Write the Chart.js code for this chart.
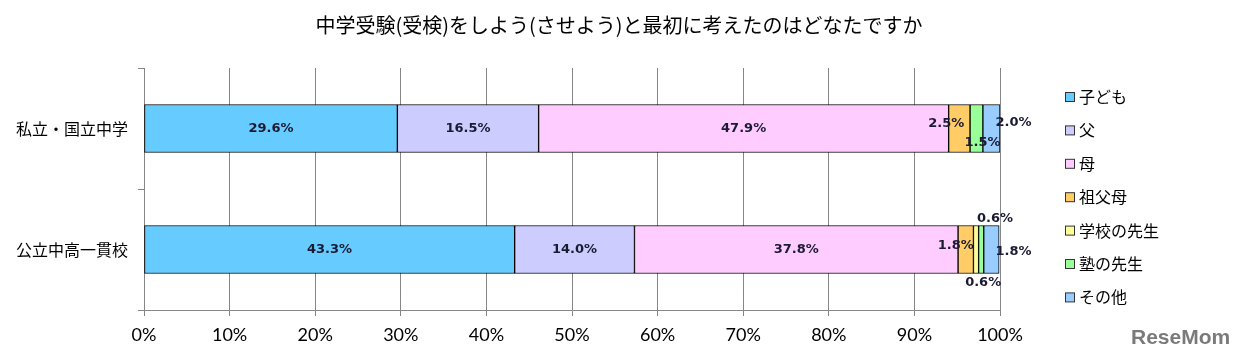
<!DOCTYPE html>
<html><head><meta charset="utf-8">
<script src="https://cdn.jsdelivr.net/npm/chart.js@4/dist/chart.umd.min.js"></script>
<style>html,body{margin:0;padding:0;background:#fff;}#wrap{position:relative;width:1238px;height:361px;}</style>
</head><body><div id="wrap"><canvas id="c" width="1238" height="361"></canvas></div>
<script>
const chartTitle = '中学受験(受検)をしよう(させよう)と最初に考えたのはどなたですか';
const categories = ['私立・国立中学', '公立中高一貫校'];
const seriesNames = ['子ども', '父', '母', '祖父母', '学校の先生', '塾の先生', 'その他'];
const kodomo = [29.6, 43.3];
const chichi = [16.5, 14.0];
const haha = [47.9, 37.8];
const sofubo = [2.5, 1.8];
const gakko = [0, 0.6];
const juku = [1.5, 0.6];
const sonota = [2.0, 1.8];
const xTickValues = [0, 10, 20, 30, 40, 50, 60, 70, 80, 90, 100];

const seriesValues = [kodomo, chichi, haha, sofubo, gakko, juku, sonota];
const colors = ['#66CCFF', '#CCCCFF', '#FFCCFF', '#FFCC66', '#FFFF99', '#99FF99', '#99CCFF'];
// label nudges (pixels) for small segments: key "dataset-row"
const labelNudge = {
  '3-0': [-13, -5], '5-0': [6, 14], '6-0': [22, -6],
  '3-1': [-10, -4], '4-1': [19, -31], '5-1': [2, 33], '6-1': [22, 2]
};
const CJK = '"Noto Sans CJK JP", "Noto Sans", sans-serif';

const overlay = {
  id: 'overlay',
  afterDatasetsDraw(chart) {
    const ctx = chart.ctx;
    ctx.save();
    ctx.font = 'bold 13px "DejaVu Sans", sans-serif';
    ctx.fillStyle = '#1a1a33';
    ctx.textAlign = 'center';
    ctx.textBaseline = 'middle';
    chart.data.datasets.forEach((ds, di) => {
      const meta = chart.getDatasetMeta(di);
      meta.data.forEach((bar, ri) => {
        const v = ds.data[ri];
        if (!v) return;
        const cx = (bar.x + bar.base) / 2;
        const n = labelNudge[di + '-' + ri] || [0, 0];
        ctx.fillText(v.toFixed(1) + '%', cx + n[0], bar.y + n[1]);
      });
    });
    ctx.restore();
  },
  afterDraw(chart) {
    const ctx = chart.ctx;
    ctx.save();
    ctx.font = '20px ' + CJK;
    ctx.fillStyle = '#000';
    ctx.textAlign = 'center';
    ctx.textBaseline = 'middle';
    ctx.fillText(chartTitle, 619, 25);
    ctx.font = '16px ' + CJK;
    ctx.textAlign = 'left';
    seriesNames.forEach((name, i) => {
      const y = 97 + i * 33.4;
      ctx.fillStyle = colors[i];
      ctx.fillRect(1065.5, y - 4.5, 9, 9);
      ctx.strokeStyle = '#333';
      ctx.lineWidth = 1;
      ctx.strokeRect(1065.5, y - 4.5, 9, 9);
      ctx.fillStyle = '#000';
      ctx.fillText(name, 1079, y);
    });
    ctx.font = 'bold 21px "Liberation Sans", sans-serif';
    ctx.fillStyle = '#7a7a7a';
    ctx.textAlign = 'left';
    ctx.fillText('ReseMom', 1131, 338);
    ctx.restore();
  }
};

new Chart(document.getElementById('c'), {
  type: 'bar',
  data: {
    labels: categories,
    datasets: seriesNames.map((name, i) => ({
      label: name,
      data: seriesValues[i],
      backgroundColor: colors[i],
      borderColor: '#000',
      borderWidth: 1,
      borderSkipped: false,
      barThickness: 48
    }))
  },
  options: {
    indexAxis: 'y',
    responsive: false,
    animation: false,
    devicePixelRatio: 1,
    layout: { padding: { top: 68, right: 238, left: 0, bottom: 0 } },
    plugins: { legend: { display: false }, title: { display: false }, tooltip: { enabled: false } },
    scales: {
      x: {
        stacked: true,
        min: 0, max: 100,
        afterFit(s) { s.height = 51; },
        afterBuildTicks(s) { s.ticks = xTickValues.map(v => ({ value: v })); },
        grid: { color: '#868686', lineWidth: 1, tickLength: 6, drawTicks: true },
        border: { color: '#868686' },
        ticks: {
          color: '#000', padding: 8,
          font: { family: 'Lato, "Open Sans", sans-serif', size: 18 },
          callback: v => v + '%'
        }
      },
      y: {
        stacked: true,
        afterFit(s) { s.width = 144; },
        grid: { drawOnChartArea: false, color: '#868686', tickLength: 6, offset: true },
        border: { color: '#868686' },
        ticks: { color: '#000', padding: 10, font: { family: CJK, size: 16 } }
      }
    }
  },
  plugins: [overlay]
});
</script></body></html>
